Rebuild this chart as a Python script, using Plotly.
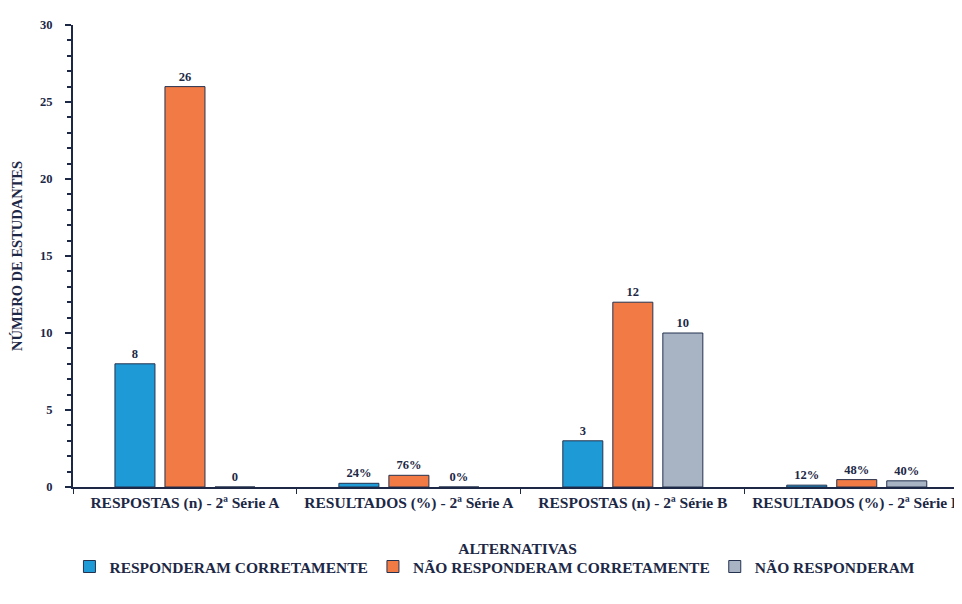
import plotly.graph_objects as go

categories = ["RESPOSTAS (n) - 2ª Série A", "RESULTADOS (%) - 2ª Série A",
              "RESPOSTAS (n) - 2ª Série B", "RESULTADOS (%) - 2ª Série B"]
series_names = ["RESPONDERAM CORRETAMENTE", "NÃO RESPONDERAM CORRETAMENTE", "NÃO RESPONDERAM"]
corretamente = [8, 0.24, 3, 0.12]
nao_corretamente = [26, 0.76, 12, 0.48]
nao_responderam = [0, 0.0, 10, 0.40]
labels_corretamente = ["8", "24%", "3", "12%"]
labels_nao_corretamente = ["26", "76%", "12", "48%"]
labels_nao_responderam = ["0", "0%", "10", "40%"]
y_ticks = [0, 5, 10, 15, 20, 25, 30]

colors = ["#1E9AD6", "#F27A45", "#A8B3C4"]
ink = "#1c2846"
font_family = "Liberation Serif, Times New Roman, serif"

fig = go.Figure()
for name, vals, labs, col in zip(series_names,
                                 [corretamente, nao_corretamente, nao_responderam],
                                 [labels_corretamente, labels_nao_corretamente, labels_nao_responderam],
                                 colors):
    fig.add_trace(go.Bar(
        x=categories, y=vals, name=name, text=labs,
        textposition="outside", cliponaxis=False,
        textfont=dict(family=font_family, size=12.5, color=ink, weight="bold"),
        marker=dict(color=col, line=dict(color="#24324f", width=1)),
    ))

fig.update_layout(
    width=954, height=596,
    margin=dict(l=65, r=0, t=17, b=117, autoexpand=False),
    plot_bgcolor="white", paper_bgcolor="white",
    barmode="group", bargap=0.33, bargroupgap=0.2,
    font=dict(family=font_family, size=12, color=ink, weight="bold"),
    showlegend=True,
    legend=dict(orientation="h", x=-0.004, y=-0.173, xanchor="left", yanchor="middle",
                font=dict(family=font_family, size=15.5, color=ink, weight="bold"),
                itemwidth=30, traceorder="normal"),
)
fig.update_xaxes(
    range=[-0.5, 3.47], showline=True, linecolor=ink, linewidth=2,
    ticks="outside", tickson="boundaries", ticklen=5, tickcolor=ink,
    automargin=False,
    tickfont=dict(family=font_family, size=15.5, color=ink, weight="bold"),
    title=dict(text="ALTERNATIVAS", standoff=33,
               font=dict(family=font_family, size=15.5, color=ink, weight="bold")),
)
fig.update_yaxes(
    range=[0, 30], tickvals=y_ticks, showline=True, linecolor=ink, linewidth=2,
    showgrid=False, zeroline=False, automargin=False,
    ticks="outside", ticklen=6, tickwidth=2, tickcolor=ink, ticklabelstandoff=10,
    minor=dict(tickmode="linear", tick0=0, dtick=1, ticks="outside", ticklen=4,
               tickwidth=1.5, tickcolor=ink, showgrid=False),
    tickfont=dict(family=font_family, size=12.5, color=ink, weight="bold"),
    title=dict(text="NÚMERO DE ESTUDANTES", standoff=14,
               font=dict(family=font_family, size=14.5, color=ink, weight="bold")),
)

fig.write_html("out.html")
